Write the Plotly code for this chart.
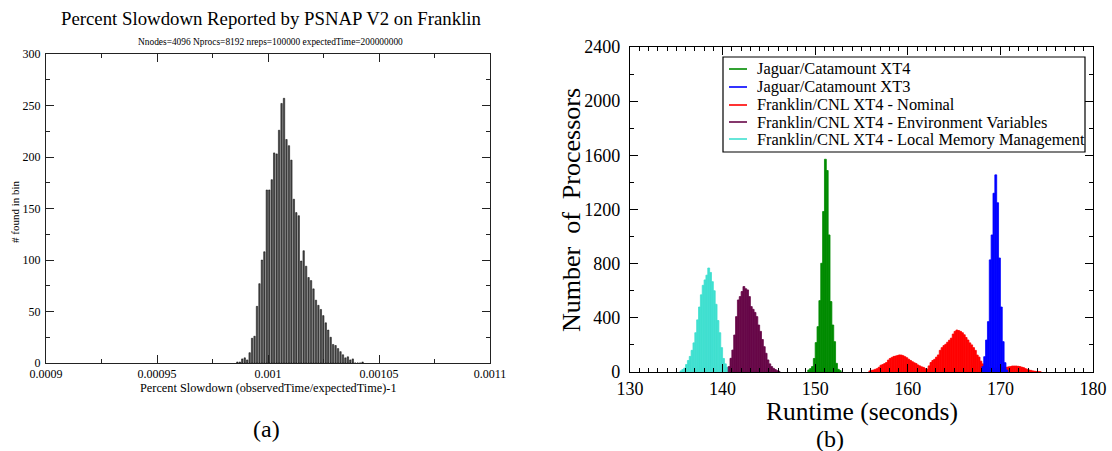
import plotly.graph_objects as go

W, H = 1112, 451

# ---------------- Panel (a) data ----------------
slow_bin_start = 0.0009862
slow_bin_width = 1.106e-6
slow_counts = [1, 1, 4, 5, 3, 10, 24, 26, 55, 77, 100, 108, 168, 168, 178, 204, 203, 226, 252, 257,
               217, 211, 197, 159, 146, 143, 99, 109, 94, 83, 80, 72,
               61, 56, 52, 46, 39, 32, 25, 18, 17, 14, 11, 8, 5, 6, 3, 4,
               0, 0, 0, 1]
slow_xtick_vals = [0.0009, 0.00095, 0.001, 0.00105, 0.0011]
slow_xtick_text = ["0.0009", "0.00095", "0.001", "0.00105", "0.0011"]
slow_ytick_vals = [0, 50, 100, 150, 200, 250, 300]

# ---------------- Panel (b) data ----------------
rt_bin_width = 0.2

cyan_start = 135.5
cyan_counts = [8, 18, 28, 55, 85, 115, 160, 215, 290, 385, 480, 570, 640, 680, 715, 768,
               735, 667, 600, 500, 380, 290, 180, 100, 60, 35, 15, 8]

purple_start = 140.7
purple_counts = [40, 101, 162, 273, 409, 532, 557, 594, 631, 615, 606, 557, 483, 463, 440,
                 409, 347, 300, 240, 187, 138, 89, 60, 40, 27, 18, 10, 5]

red_start = 155.9
red_counts = [8, 12, 15, 20, 25, 35, 50, 55, 62, 70, 88, 100, 108, 115, 118, 122, 126, 125,
              120, 113, 105, 94, 85, 76, 68, 62, 52, 45, 38, 34, 25, 22, 45, 70, 85, 94, 110,
              126, 160, 180, 195, 205, 220, 235, 250, 280, 300, 310, 306, 300, 290, 275, 255,
              236, 215, 200, 180, 160, 125, 110, 80, 60, 50, 40, 35, 32, 30, 28, 28, 30, 32,
              30, 32, 34, 35, 38, 40, 44, 44, 44, 42, 40, 36, 32, 25, 20, 15, 12, 8, 6, 4, 3, 2]

blue_start = 168.1
blue_counts = [40, 113, 236, 372, 828, 1012, 1320, 1456, 1250, 842, 480, 224, 69, 15]

green_start = 149.3
green_counts = [15, 25, 40, 100, 217, 335, 527, 803, 1185, 1571, 1488, 1012, 520, 347, 224,
                64, 20, 10]

rt_xtick_vals = [130, 140, 150, 160, 170, 180]
rt_xtick_text = ["130", "140", "150", "160", "170", "180"]
rt_ytick_vals = [0, 400, 800, 1200, 1600, 2000, 2400]

series = [
    # name, start, counts, color  (drawing order)
    ("Franklin/CNL XT4 - Local Memory Management", cyan_start, cyan_counts, "#40e0d0"),
    ("Franklin/CNL XT4 - Environment Variables", purple_start, purple_counts, "#670748"),
    ("Franklin/CNL XT4 - Nominal", red_start, red_counts, "#ff0000"),
    ("Jaguar/Catamount XT3", blue_start, blue_counts, "#0000ff"),
    ("Jaguar/Catamount XT4", green_start, green_counts, "#008b00"),
]
legend_order = ["Jaguar/Catamount XT4", "Jaguar/Catamount XT3", "Franklin/CNL XT4 - Nominal",
                "Franklin/CNL XT4 - Environment Variables",
                "Franklin/CNL XT4 - Local Memory Management"]

SERIF = "Liberation Serif, Times New Roman, serif"


def px(x):
    return x / W


def py(y):
    return 1 - y / H


fig = go.Figure()

# Panel (a) histogram
slow_x = [slow_bin_start + i * slow_bin_width for i in range(len(slow_counts))]
fig.add_trace(go.Bar(x=slow_x, y=slow_counts, xaxis="x", yaxis="y",
                     marker=dict(color="#505050", line=dict(color="#000000", width=0.5)),
                     showlegend=False, hoverinfo="x+y"))

# Panel (b) histograms
colors = {}
for name, start, counts, color in series:
    colors[name] = color
    xs = [start + i * rt_bin_width for i in range(len(counts))]
    fig.add_trace(go.Bar(x=xs, y=counts, width=rt_bin_width, xaxis="x2", yaxis="y2",
                         marker=dict(color=color, line=dict(color=color, width=0.8)),
                         showlegend=False, name=name))

axis_common = dict(showgrid=False, zeroline=False, showline=True, mirror="ticks",
                   ticks="inside", fixedrange=True, automargin=False)

fig.update_layout(
    width=W, height=H,
    margin=dict(l=0, r=0, t=0, b=0, pad=0, autoexpand=False),
    paper_bgcolor="white", plot_bgcolor="white",
    barmode="overlay", bargap=0.42,
    showlegend=False,
    font=dict(family=SERIF, color="black"),
    xaxis=dict(domain=[px(46), px(490)], range=[0.0009, 0.0011], anchor="y",
               tickmode="array", tickvals=slow_xtick_vals, ticktext=slow_xtick_text,
               ticklen=8, tickcolor="#222", linecolor="#222", linewidth=1,
               minor=dict(ticks="inside", ticklen=4, dtick=0.000025, tick0=0.0009, tickcolor="#222"),
               tickfont=dict(size=12, family=SERIF), **axis_common),
    yaxis=dict(domain=[py(363), py(54)], range=[0, 300], anchor="x",
               tickmode="array", tickvals=slow_ytick_vals,
               ticklen=8, tickcolor="#222", linecolor="#222", linewidth=1,
               minor=dict(ticks="inside", ticklen=4, dtick=25, tick0=0, tickcolor="#222"),
               tickfont=dict(size=12, family=SERIF), ticklabelstandoff=2, **axis_common),
    xaxis2=dict(domain=[px(630), px(1093)], range=[130, 180], anchor="y2",
                tickmode="array", tickvals=rt_xtick_vals, ticktext=rt_xtick_text,
                ticklen=8, tickcolor="black", linecolor="black", linewidth=1.3,
                minor=dict(ticks="inside", ticklen=4, dtick=1, tick0=130, tickcolor="black"),
                tickfont=dict(size=18, family=SERIF), **axis_common),
    yaxis2=dict(domain=[py(372), py(47)], range=[0, 2400], anchor="x2",
                tickmode="array", tickvals=rt_ytick_vals,
                ticklen=8, tickcolor="black", linecolor="black", linewidth=1.3,
                minor=dict(ticks="inside", ticklen=4, dtick=200, tick0=0, tickcolor="black"),
                tickfont=dict(size=18, family=SERIF), ticklabelstandoff=5, **axis_common),
)

# ----- legend box for panel (b), drawn in paper pixels -----
leg_left, leg_right, leg_top, leg_bottom = 723, 1085, 57, 152
leg_rows = [69, 87, 105, 122, 139]
fig.add_shape(type="rect", xref="paper", yref="paper",
              x0=px(leg_left), x1=px(leg_right), y0=py(leg_bottom), y1=py(leg_top),
              fillcolor="white", line=dict(color="black", width=1.2), layer="above")
for name, ry in zip(legend_order, leg_rows):
    fig.add_shape(type="line", xref="paper", yref="paper",
                  x0=px(729), x1=px(747), y0=py(ry), y1=py(ry),
                  line=dict(color=colors[name], width=1.6), layer="above")
    fig.add_annotation(text=name, x=px(755), y=py(ry), xref="paper", yref="paper",
                       xanchor="left", yanchor="middle", showarrow=False,
                       font=dict(size=16.4, family=SERIF, color="black"))

annotations = [
    dict(text="Percent Slowdown Reported by PSNAP V2 on Franklin", x=px(271), y=py(19), size=18.8),
    dict(text="Nnodes=4096 Nprocs=8192 nreps=100000 expectedTime=200000000", x=px(270), y=py(41.5), size=9.4),
    dict(text="Percent Slowdown (observedTime/expectedTime)-1", x=px(268), y=py(388), size=12.3),
    dict(text="(a)", x=px(266), y=py(429), size=24),
    dict(text="Runtime (seconds)", x=px(862), y=py(411), size=25.5),
    dict(text="(b)", x=px(830), y=py(439), size=24),
]
for a in annotations:
    fig.add_annotation(text=a["text"], x=a["x"], y=a["y"], xref="paper", yref="paper",
                       xanchor="center", yanchor="middle", showarrow=False,
                       font=dict(size=a["size"], family=SERIF, color="black"))

fig.add_annotation(text="# found in bin", x=px(15), y=py(212), xref="paper", yref="paper",
                   textangle=-90, xanchor="center", yanchor="middle", showarrow=False,
                   font=dict(size=11, family=SERIF, color="black"))
fig.add_annotation(text="Number  of  Processors", x=px(572), y=py(210), xref="paper", yref="paper",
                   textangle=-90, xanchor="center", yanchor="middle", showarrow=False,
                   font=dict(size=26, family=SERIF, color="black"))

fig.write_html("out.html")
